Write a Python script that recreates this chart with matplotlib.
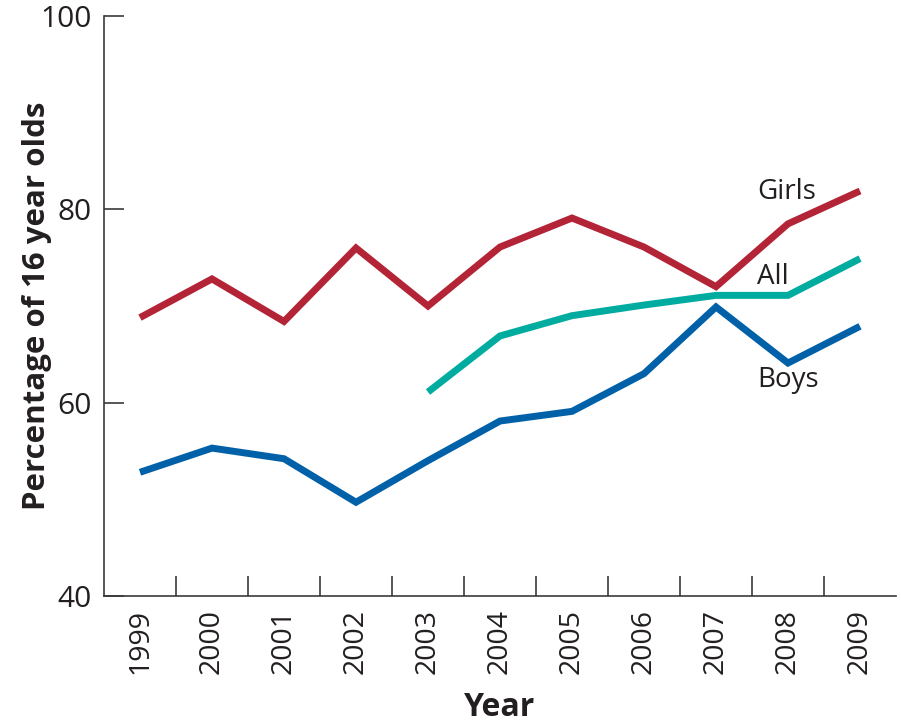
import matplotlib.pyplot as plt
import numpy as np

plt.rcParams['font.family'] = ['Open Sans', 'DejaVu Sans']

years = ['1999', '2000', '2001', '2002', '2003', '2004',
         '2005', '2006', '2007', '2008', '2009']
girls = [68.8, 72.8, 68.4, 76.0, 70.0, 76.1, 79.1, 76.1, 72.0, 78.5, 81.9]
boys = [52.8, 55.3, 54.2, 49.7, 54.0, 58.1, 59.1, 63.0, 69.9, 64.1, 67.9]
all_years = ['2003', '2004', '2005', '2006', '2007', '2008', '2009']
all_vals = [61.1, 66.9, 69.0, 70.1, 71.1, 71.1, 74.9]

red = '#b32437'
blue = '#0061a9'
teal = '#00aba0'
ink = '#231f20'

fig = plt.figure(figsize=(9.01, 7.24), dpi=100)
ax = fig.add_axes([104 / 901, 128 / 724, 792 / 901, 580 / 724])

x = np.arange(len(years))
x_all = np.array([years.index(y) for y in all_years])

ax.plot(x, girls, color=red, lw=5, solid_joinstyle='miter', solid_capstyle='butt')
ax.plot(x_all, all_vals, color=teal, lw=5, solid_joinstyle='miter', solid_capstyle='butt')
ax.plot(x, boys, color=blue, lw=5, solid_joinstyle='miter', solid_capstyle='butt')

ax.text(8.57, 81.8, 'Girls', fontsize=20, color=ink, va='center', ha='left')
ax.text(8.57, 73.0, 'All', fontsize=20, color=ink, va='center', ha='left')
ax.text(8.57, 62.3, 'Boys', fontsize=20, color=ink, va='center', ha='left')

ax.set_xlim(-0.5, len(years) - 0.5)
ax.set_ylim(40, 100)

for s in ['top', 'right']:
    ax.spines[s].set_visible(False)
for s in ['left', 'bottom']:
    ax.spines[s].set_color('#3a3a3a')
    ax.spines[s].set_linewidth(1.2)

ax.set_yticks([40, 60, 80, 100])
ax.tick_params(axis='y', direction='in', length=14.4, width=1.2, color='#3a3a3a',
               labelsize=21.5, pad=9, labelcolor=ink)

ax.set_xticks(x)
ax.set_xticklabels(years, rotation=90, fontsize=20.5, color=ink)
ax.tick_params(axis='x', which='major', length=0, pad=9)
ax.set_xticks(np.arange(0.5, len(years) - 1), minor=True)
ax.tick_params(axis='x', which='minor', direction='in', length=14.4, width=1.2,
               color='#3a3a3a')

ax.set_ylabel('Percentage of 16 year olds', fontsize=22.5, fontweight='bold', color=ink)
ax.yaxis.set_label_coords(-0.066, 0.5)
ax.set_xlabel('Year', fontsize=23, fontweight='bold', color=ink)
ax.xaxis.set_label_coords(0.5, -0.163)

fig.savefig('out.png', dpi=100)
